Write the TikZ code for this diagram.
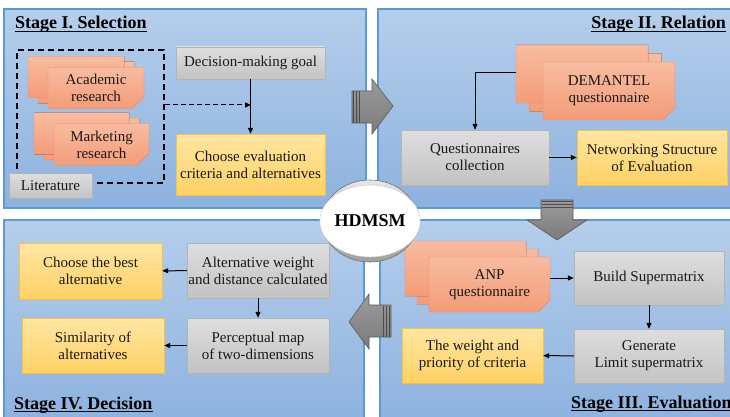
\documentclass[tikz,border=0pt]{standalone}
\usepackage{fontspec}
\setmainfont{Liberation Serif}
\usetikzlibrary{arrows.meta,shapes.geometric,shapes.misc,shadows}

\definecolor{paneltop}{HTML}{B5CEEB}
\definecolor{panelbot}{HTML}{8DB2DF}
\definecolor{panelline}{HTML}{5B9BD5}
\definecolor{goldtop}{HTML}{FFE6A3}
\definecolor{goldbot}{HTML}{FFD164}
\definecolor{goldline}{HTML}{F4C244}
\definecolor{graytop}{HTML}{DEDEDE}
\definecolor{graybot}{HTML}{C3C3C3}
\definecolor{grayline}{HTML}{B4B4B4}
\definecolor{doctop}{HTML}{F8BCA0}
\definecolor{docbot}{HTML}{F39C78}
\definecolor{docline}{HTML}{EE8A62}
\definecolor{docfold}{HTML}{DD8460}
\definecolor{arrowtop}{HTML}{9C9C9C}
\definecolor{arrowbot}{HTML}{7A7A7A}
\definecolor{arrowline}{HTML}{5A5A5A}

\tikzset{
  panel/.style={draw=panelline, line width=1.5pt, top color=paneltop, bottom color=panelbot},
  title/.style={font=\fontsize{18}{20}\selectfont\bfseries, inner sep=0pt},
  uline/.style={line width=1pt},
  box/.style={rectangle, inner sep=1pt, align=center, text=black!90,
    font=\fontsize{15}{17}\selectfont},
  graybox/.style={box, draw=grayline, top color=graytop, bottom color=graybot},
  goldbox/.style={box, draw=goldline, top color=goldtop, bottom color=goldbot},
  docpaint/.style={draw=docline, top color=doctop, bottom color=docbot},
  doc/.style={box, chamfered rectangle, chamfered rectangle corners=south east,
    chamfered rectangle xsep=6pt, chamfered rectangle ysep=6pt, docpaint,
    path picture={\fill[docfold]
      ([xshift=-6pt]path picture bounding box.south east) --
      ([xshift=-6pt,yshift=6pt]path picture bounding box.south east) --
      ([yshift=6pt]path picture bounding box.south east) -- cycle;}},
  docstack/.style n args={4}{
    copy shadow={shadow xshift=#3, shadow yshift=#4, docpaint},
    copy shadow={shadow xshift=#1, shadow yshift=#2, docpaint}},
  litframe/.style={draw, dashed, line width=1.4pt, dash pattern=on 6pt off 4pt,
    inner sep=0pt},
  link/.style={line width=1pt, -{Triangle[length=6pt,width=5pt]}},
  bigarrow/.style={draw=arrowline, line width=.6pt, top color=arrowtop, bottom color=arrowbot},
  stripe/.style={draw=black!70, line width=1pt},
}

\begin{document}
\begin{tikzpicture}[x=1pt,y=-1pt]
\useasboundingbox (0,0) rectangle (730,417);

% stage panels
\draw[panel] (4,9) rectangle (366,208);
\draw[panel] (378,9) rectangle (740,208);
\draw[panel] (380,220) rectangle (740,425);
\draw[panel] (4,220) rectangle (364,425);

\node[title, anchor=base west] (s1) at (15,29) {Stage I. Selection};
\node[title, anchor=base east] (s2) at (726,29) {Stage II. Relation};
\node[title, anchor=base west] (s3) at (571,408) {Stage III. Evaluation};
\node[title, anchor=base west] (s4) at (14,409) {Stage IV. Decision};
\foreach \t in {s1,s2,s3,s4}
  \draw[uline] ([yshift=-2.5pt]\t.base west) -- ([yshift=-2.5pt]\t.base east);

% Stage I
\node[litframe, minimum width=147pt, minimum height=133pt] (frame) at (90.5,116.5) {};
\node[graybox, minimum width=83pt, minimum height=25pt] (lit) at (50.5,185.5) {Literature};
\node[doc, docstack={-20pt}{11pt}{-10pt}{5.5pt}, minimum width=96pt, minimum height=40pt]
  (acad) at (96,88) {Academic\\research};
\node[doc, docstack={-20pt}{11pt}{-10pt}{5.5pt}, minimum width=95pt, minimum height=37pt]
  (mark) at (101.5,144.5) {Marketing\\research};
\node[graybox, minimum width=149pt, minimum height=32pt] (goal) at (250.5,63) {Decision-making goal};
\node[goldbox, minimum width=149pt, minimum height=61pt] (crit) at (250.5,164.5)
  {Choose evaluation\\criteria and alternatives};
\coordinate (join) at (251,105);
\draw[link] (goal) -- (crit);
\draw[link, dashed, dash pattern=on 5pt off 3pt] (frame.east |- join) -- (join);

% Stage II
\node[doc, docstack={-27pt}{17pt}{-13.5pt}{8.5pt}, minimum width=132pt, minimum height=58pt]
  (dem) at (609,91) {DEMANTEL\\questionnaire};
\node[graybox, minimum width=148pt, minimum height=55pt] (coll) at (475,157.5)
  {Questionnaires\\collection};
\node[goldbox, minimum width=150pt, minimum height=55pt] (net) at (652,157.5)
  {Networking Structure\\of Evaluation};
\draw[link] ([xshift=-27pt,yshift=18pt]dem.west) -| (coll.north);
\draw[link] (coll) -- (net);

% Stage III
\node[doc, docstack={-24pt}{16pt}{-12pt}{8pt}, minimum width=121pt, minimum height=55pt]
  (anp) at (489.5,284.5) {ANP\\questionnaire};
\node[graybox, minimum width=150pt, minimum height=54pt] (super) at (649,278) {Build Supermatrix};
\node[graybox, minimum width=150pt, minimum height=54pt] (limit) at (649,356)
  {Generate\\Limit supermatrix};
\node[goldbox, minimum width=141pt, minimum height=55pt] (prio) at (472.5,355.5)
  {The weight and\\priority of criteria};
\draw[link] (anp.east |- super.west) -- (super.west);
\draw[link] (super) -- (limit);
\draw[link] (limit) -- (prio);

% Stage IV
\node[graybox, minimum width=142pt, minimum height=55pt] (dist) at (258,270.5)
  {Alternative weight\\and distance calculated};
\node[goldbox, minimum width=143pt, minimum height=56pt] (best) at (90.5,271)
  {Choose the best\\alternative};
\node[graybox, minimum width=142pt, minimum height=55pt] (pmap) at (258,345.5)
  {Perceptual map\\of two-dimensions};
\node[goldbox, minimum width=142pt, minimum height=55pt] (simi) at (93,345.5)
  {Similarity of\\alternatives};
\draw[link] (dist) -- (best);
\draw[link] (dist) -- (pmap);
\draw[link] (pmap) -- (simi);

% block arrows between stages
\draw[bigarrow] (352,91) -- (372,91) -- (372,79) -- (393,106) -- (372,134) -- (372,123) -- (352,123) -- cycle;
\foreach \x in {353.5,356.5,359.5}
  \draw[stripe] (\x,91.5) -- (\x,122.5);
\draw[bigarrow] (541,200) -- (573,200) -- (573,220) -- (587,220) -- (557,240) -- (527,220) -- (541,220) -- cycle;
\foreach \y in {201.5,204.5,207.5}
  \draw[stripe] (541.5,\y) -- (572.5,\y);
\draw[bigarrow] (391,305) -- (369,305) -- (369,294) -- (349,322) -- (369,349) -- (369,337) -- (391,337) -- cycle;
\foreach \x in {389.5,386.5,383.5}
  \draw[stripe] (\x,305.5) -- (\x,336.5);

% centre
\node[ellipse, draw=black!55, line width=.6pt, top color=gray!20, bottom color=gray!75,
  minimum width=96pt, minimum height=82pt] (ring) at (370,221) {};
\node[ellipse, draw=gray!45, fill=white, minimum width=86pt, minimum height=72pt,
  inner sep=0pt, font=\fontsize{18}{20}\selectfont\bfseries] (hub) at (ring) {HDMSM};
\end{tikzpicture}
\end{document}
